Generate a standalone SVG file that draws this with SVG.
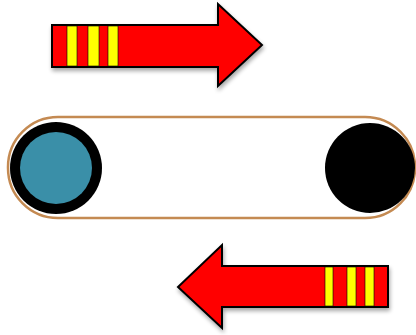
<svg xmlns="http://www.w3.org/2000/svg" width="416" height="335" viewBox="0 0 416 335">
<defs>
<style>
.arrow{fill:#ff0000;stroke:#000;stroke-width:2;stroke-linejoin:miter}
.stripe{fill:#ffff00;stroke:#000;stroke-width:0.6}
.belt{fill:#fff;stroke:#c48a52;stroke-width:2.5}
</style>
<filter id="sh" x="-10%" y="-10%" width="120%" height="130%">
<feGaussianBlur in="SourceAlpha" stdDeviation="2"/>
<feOffset dx="1" dy="3" result="b"/>
<feComponentTransfer><feFuncA type="linear" slope="0.35"/></feComponentTransfer>
<feMerge><feMergeNode/><feMergeNode in="SourceGraphic"/></feMerge>
</filter>
</defs>
<g id="belt">
<rect class="belt" x="8" y="117" width="407" height="101" rx="50" ry="50"/>
</g>
<g id="left-pulley">
<circle cx="56" cy="168" r="46" fill="#000"/>
<circle cx="56" cy="168" r="36" fill="#3a8fa8"/>
</g>
<g id="right-pulley">
<circle cx="370" cy="168" r="45" fill="#000"/>
</g>
<g id="top-arrow" filter="url(#sh)">
<polygon class="arrow" points="52,25 218,25 218,4 262,45 218,86 218,67 52,67"/>
<rect class="stripe" x="67" y="26" width="10" height="40"/>
<rect class="stripe" x="88" y="26" width="11" height="40"/>
<rect class="stripe" x="108" y="26" width="10" height="40"/>
</g>
<g id="bottom-arrow" filter="url(#sh)">
<polygon class="arrow" points="388,266 222,266 222,245 178,287 222,328 222,307 388,307"/>
<rect class="stripe" x="325" y="267" width="8" height="39"/>
<rect class="stripe" x="347" y="267" width="9" height="39"/>
<rect class="stripe" x="365" y="267" width="9" height="39"/>
</g>
<g id="connectors"/>
</svg>
